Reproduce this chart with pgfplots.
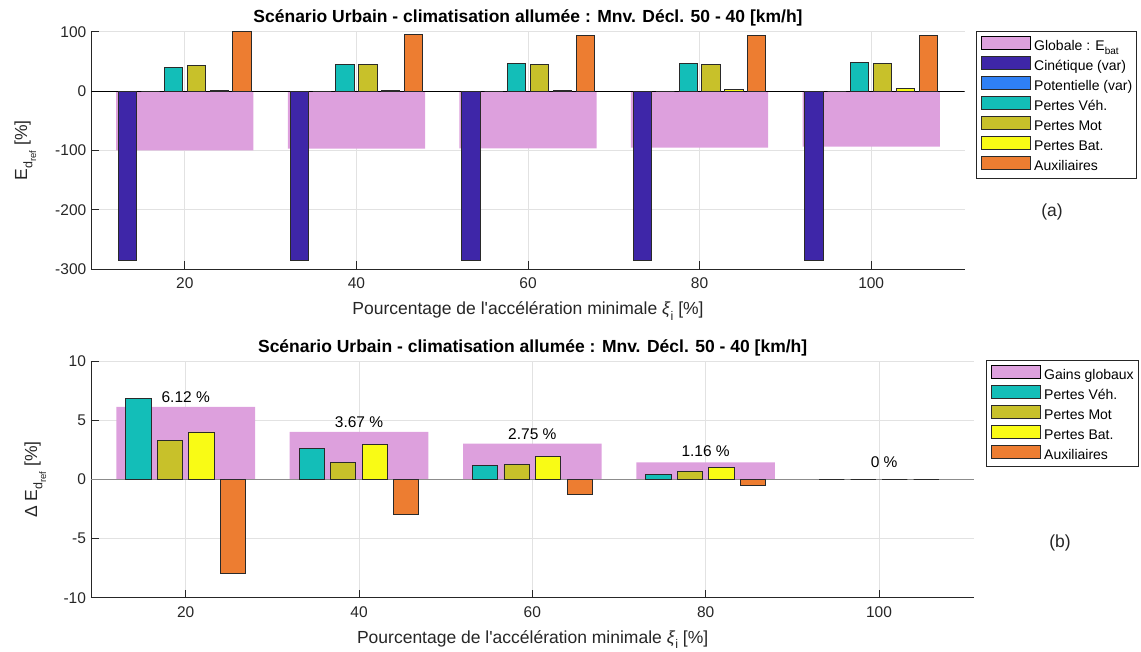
\documentclass[border=0pt]{standalone}
\usepackage{pgfplots}
\pgfplotsset{compat=1.18}
\usepackage{fontspec}
\setmainfont{Liberation Sans}
\definecolor{pinkc}{HTML}{DDA0DD}
\definecolor{cine}{HTML}{3E26A8}
\definecolor{pot}{HTML}{2F80F5}
\definecolor{veh}{HTML}{13BEB8}
\definecolor{mot}{HTML}{C8C12A}
\definecolor{bat}{HTML}{F9FB15}
\definecolor{aux}{HTML}{ED7D31}
\definecolor{axc}{HTML}{262626}
\definecolor{gridc}{HTML}{E2E2E2}
\definecolor{edgec}{HTML}{2A2A2A}
\newcommand{\fs}[1]{\fontsize{#1}{#1}\selectfont}
\newcommand{\Edref}{E\raisebox{-0.3em}{\fs{12.5}d\raisebox{-0.3em}{\fs{9.5}ref}}}
\newcommand{\xlab}{Pourcentage de l\textquotesingle accélération minimale \textit{ξ}\raisebox{-0.3em}{\fs{12.5}i} [\%]}
\pgfplotsset{
  barb/.style={ybar, fill=#1, draw=edgec, line width=0.9pt, forget plot},
}
\pgfplotsset{
  patch/.style={legend image code/.code={\draw[##1] (0pt,-3pt) rectangle (49pt,10pt);}},
  matstyle/.style={
    scale only axis,
    axis x line*=bottom, axis y line*=left,
    axis line style={axc, line width=0.8pt},
    tick align=inside,
    major tick length=8pt,
    tick style={axc, line width=0.8pt},
    xmajorgrids, ymajorgrids,
    grid style={gridc, line width=0.8pt},
    xtick={20,40,60,80,100},
    ticklabel style={font=\fs{15.5}, text=axc},
    yticklabel style={xshift=-1.5pt},
    xticklabel style={yshift=-5pt},
    /pgf/number format/assume math mode=true,
    title style={at={(axis description cs:0.5,1)}, anchor=base, yshift=3pt, font=\bfseries\fs{17.5}},
    xlabel style={at={(axis description cs:0.5,0)}, anchor=base, yshift=-46pt, font=\fs{17.5}, text=axc},
    legend cell align=left,
    legend style={draw=axc, line width=0.6pt, font=\fs{14}, inner xsep=4.5pt, inner ysep=4.5pt,
      row sep=2.6pt, column sep=3.5pt,
      nodes={inner sep=0pt, text height=11pt, text depth=3pt}},
  }
}
\begin{document}
\begin{tikzpicture}
\useasboundingbox (0,0) rectangle (1141pt,652pt);
% ---------- (a) ----------
\begin{axis}[matstyle,
  at={(91.3pt,383pt)}, anchor=south west,
  width=873.4pt, height=237.3pt,
  xmin=9.1, xmax=110.9, ymin=-300, ymax=100,
  ytick={-300,-200,-100,0,100},
  title={Scénario Urbain - climatisation allumée : Mnv. Décl. 50 - 40 [km/h]},
  xlabel={\xlab},
  ylabel={\Edref\ [\%]},
  ylabel style={at={(axis description cs:-0.0736,0.5)}, anchor=base, rotate=0, font=\fs{17.5}, text=axc},
  legend style={at={(rel axis cs:1.01294,1.00295)}, anchor=north west},
]
\addplot[ybar, bar width=16, bar shift=0, fill=pinkc, draw=none, forget plot]
  coordinates {(20,-100) (40,-97.1) (60,-96.5) (80,-95.3) (100,-93.8)};
\draw[black, line width=0.8pt] (axis cs:9.1,0) -- (axis cs:110.9,0);
\addplot[barb=cine, bar width=2.133, bar shift=-6.667]
  coordinates {(20,-285.5) (40,-285.5) (60,-285.5) (80,-285.5) (100,-286)};
\addplot[barb=pot, bar width=2.133, bar shift=-4]
  coordinates {(20,0) (40,0) (60,0) (80,0) (100,0)};
\addplot[barb=veh, bar width=2.133, bar shift=-1.333]
  coordinates {(20,40.4) (40,45.4) (60,46.5) (80,47.1) (100,47.7)};
\addplot[barb=mot, bar width=2.133, bar shift=1.333]
  coordinates {(20,42.6) (40,45.4) (60,44.9) (80,45.4) (100,46.0)};
\addplot[barb=bat, bar width=2.133, bar shift=4]
  coordinates {(20,0.5) (40,1.1) (60,1.7) (80,2.8) (100,3.9)};
\addplot[barb=aux, bar width=2.133, bar shift=6.667]
  coordinates {(20,101) (40,95.9) (60,94.2) (80,93.7) (100,93.1)};
\addlegendimage{patch, fill=pinkc, draw=none}
\addlegendentry{Globale : E\raisebox{-0.3em}{\fs{10}bat}}
\addlegendimage{patch, fill=cine, draw=edgec, line width=0.9pt}
\addlegendentry{Cinétique (var)}
\addlegendimage{patch, fill=pot, draw=edgec, line width=0.9pt}
\addlegendentry{Potentielle (var)}
\addlegendimage{patch, fill=veh, draw=edgec, line width=0.9pt}
\addlegendentry{Pertes Véh.}
\addlegendimage{patch, fill=mot, draw=edgec, line width=0.9pt}
\addlegendentry{Pertes Mot}
\addlegendimage{patch, fill=bat, draw=edgec, line width=0.9pt}
\addlegendentry{Pertes Bat.}
\addlegendimage{patch, fill=aux, draw=edgec, line width=0.9pt}
\addlegendentry{Auxiliaires}
\end{axis}
% ---------- (b) ----------
\begin{axis}[matstyle,
  at={(91pt,54.3pt)}, anchor=south west,
  width=883.3pt, height=236.4pt,
  xmin=9.07, xmax=111.0, ymin=-10, ymax=10,
  ytick={-10,-5,0,5,10},
  title={Scénario Urbain - climatisation allumée : Mnv. Décl. 50 - 40 [km/h]},
  xlabel={\xlab},
  ylabel={Δ \Edref\ [\%]},
  ylabel style={at={(axis description cs:-0.0611,0.5)}, anchor=base, rotate=0, font=\fs{17.5}, text=axc},
  legend style={at={(rel axis cs:1.01325,1.0055)}, anchor=north west},
]
\addplot[ybar, bar width=16, bar shift=0, fill=pinkc, draw=none, forget plot]
  coordinates {(20,6.14) (40,4.02) (60,3.04) (80,1.45) (100,0)};
\draw[gray!90, line width=1.3pt] (axis cs:9.07,0) -- (axis cs:111.0,0);
\addplot[barb=veh, bar width=2.909, bar shift=-5.4545]
  coordinates {(20,6.85) (40,2.60) (60,1.15) (80,0.42) (100,0)};
\addplot[barb=mot, bar width=2.909, bar shift=-1.8182]
  coordinates {(20,3.27) (40,1.43) (60,1.28) (80,0.67) (100,0)};
\addplot[barb=bat, bar width=2.909, bar shift=1.8182]
  coordinates {(20,4.02) (40,2.99) (60,1.96) (80,1.00) (100,0)};
\addplot[barb=aux, bar width=2.909, bar shift=5.4545]
  coordinates {(20,-7.96) (40,-2.93) (60,-1.28) (80,-0.53) (100,0)};
\node[font=\fs{15.5}, text=black] at (axis cs:20,6.95) {6.12 \%};
\node[font=\fs{15.5}, text=black] at (axis cs:40,4.81) {3.67 \%};
\node[font=\fs{15.5}, text=black] at (axis cs:60,3.82) {2.75 \%};
\node[font=\fs{15.5}, text=black] at (axis cs:80,2.43) {1.16 \%};
\node[font=\fs{15.5}, text=black] at (axis cs:100.6,1.45) {0 \%};
\addlegendimage{patch, fill=pinkc, draw=none}
\addlegendentry{Gains globaux}
\addlegendimage{patch, fill=veh, draw=edgec, line width=0.9pt}
\addlegendentry{Pertes Véh.}
\addlegendimage{patch, fill=mot, draw=edgec, line width=0.9pt}
\addlegendentry{Pertes Mot}
\addlegendimage{patch, fill=bat, draw=edgec, line width=0.9pt}
\addlegendentry{Pertes Bat.}
\addlegendimage{patch, fill=aux, draw=edgec, line width=0.9pt}
\addlegendentry{Auxiliaires}
\end{axis}
\node[font=\fs{17.5}, text=axc] at (1052pt,440pt) {(a)};
\node[font=\fs{17.5}, text=axc] at (1060pt,109pt) {(b)};
\end{tikzpicture}
\end{document}
